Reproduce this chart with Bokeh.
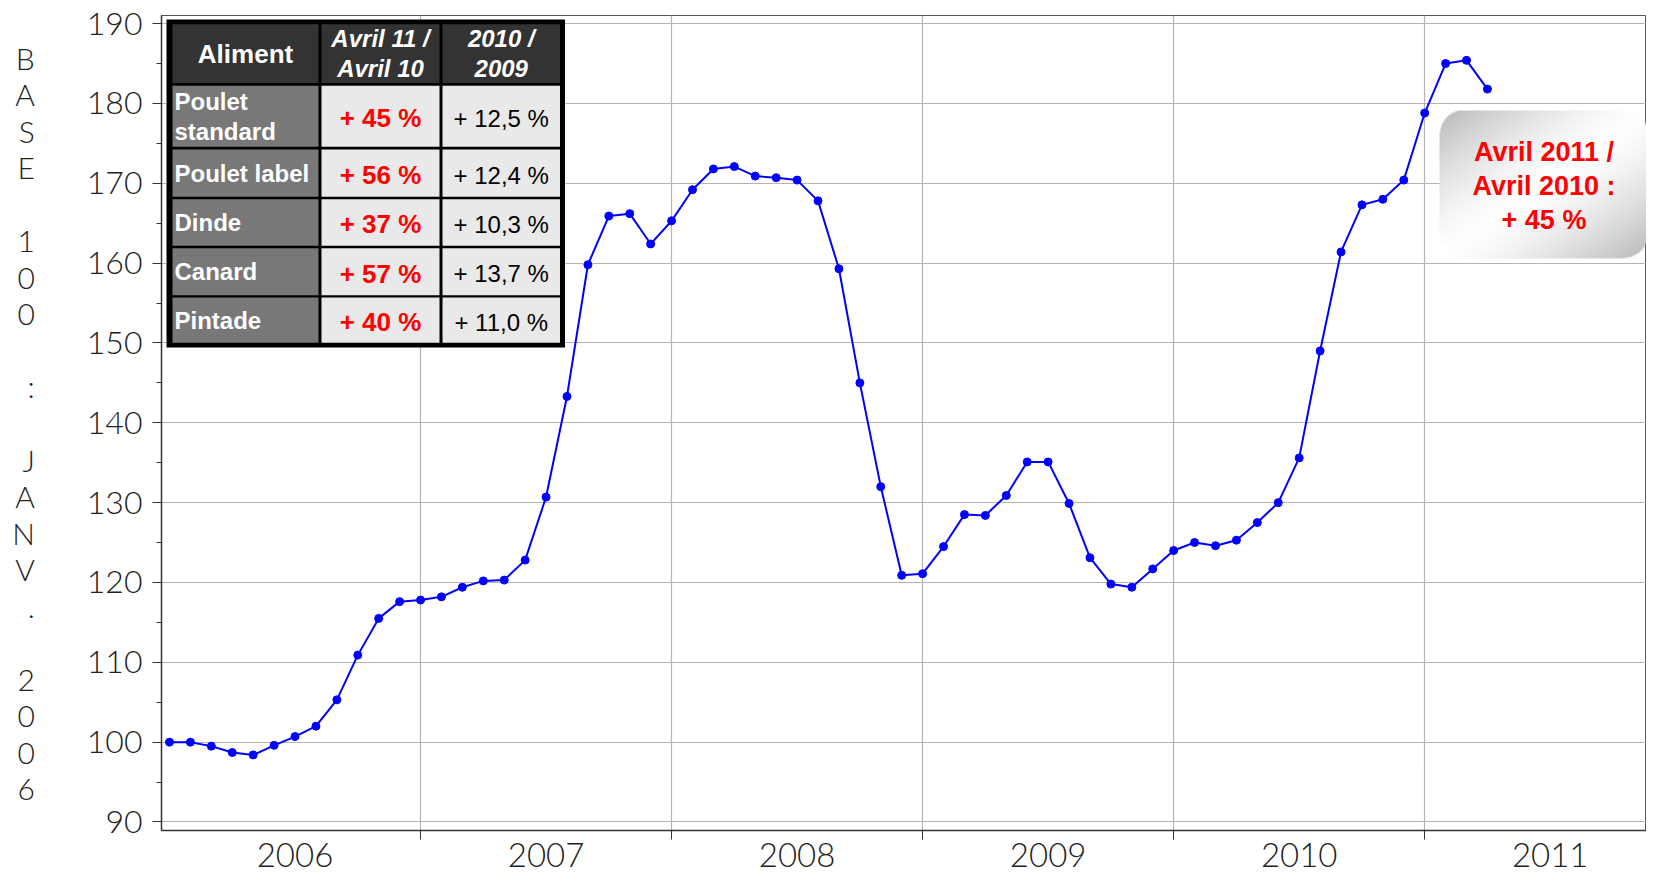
import numpy as np
from bokeh.plotting import figure
from bokeh.models import Range1d, FixedTicker
from bokeh.core.properties import value
from bokeh.embed import file_html
from bokeh.resources import INLINE

# ---------------- data ----------------
# month index: 0 = janvier 2006 ... 63 = avril 2011
months = list(range(64))
index_values = [
    100.0, 100.0, 99.5, 98.7, 98.4, 99.6, 100.7, 102.0, 105.3, 110.9, 115.5, 117.6,
    117.8, 118.2, 119.4, 120.2, 120.3, 122.8, 130.7, 143.3, 159.8, 165.9, 166.2, 162.4,
    165.3, 169.2, 171.8, 172.1, 170.9, 170.7, 170.4, 167.8, 159.3, 145.0, 132.0, 120.9,
    121.1, 124.5, 128.5, 128.4, 130.9, 135.1, 135.1, 129.9, 123.1, 119.8, 119.4, 121.7,
    124.0, 125.0, 124.6, 125.3, 127.5, 130.0, 135.6, 149.0, 161.4, 167.3, 168.0, 170.4,
    178.8, 185.0, 185.4, 181.8,
]
year_labels = ["2006", "2007", "2008", "2009", "2010", "2011"]
y_ticks = [90, 100, 110, 120, 130, 140, 150, 160, 170, 180, 190]
y_minor_ticks = [95, 105, 115, 125, 135, 145, 155, 165, 175, 185]
y_axis_title = "BASE 100 : JANV. 2006"

table_headers = ["Aliment", "Avril 11 /\nAvril 10", "2010 /\n2009"]
foods = ["Poulet\nstandard", "Poulet label", "Dinde", "Canard", "Pintade"]
change_april = ["+ 45 %", "+ 56 %", "+ 37 %", "+ 57 %", "+ 40 %"]
change_year = ["+ 12,5 %", "+ 12,4 %", "+ 10,3 %", "+ 13,7 %", "+ 11,0 %"]
callout_text = "Avril 2011 /\nAvril 2010 :\n+ 45 %"

# ---------------- geometry helpers (reference pixel -> data units) ----------------
PX_PER_MONTH = 20.92
X0_PX = 169.0          # x of month 0
Y190_PX = 23.3         # y of value 190
PX_PER_UNIT = 8.15


def px2x(px):
    return (px - X0_PX) / PX_PER_MONTH


def py2y(py):
    return 190 - (py - Y190_PX) / PX_PER_UNIT


FIG_W, FIG_H = 1646, 872
FRAME_LEFT, FRAME_TOP = 161, 15
x_start = px2x(FRAME_LEFT)
x_end = px2x(FIG_W)
y_start = py2y(847)
y_end = py2y(FRAME_TOP)

TICK_FONT = "Lato Light, Lato, sans-serif"
TABLE_FONT = value("Liberation Sans")

p = figure(
    width=FIG_W, height=FIG_H,
    x_range=Range1d(x_start, x_end), y_range=Range1d(y_start, y_end),
    output_backend="svg", toolbar_location=None, tools="",
    min_border_left=FRAME_LEFT, min_border_right=0, min_border_top=FRAME_TOP, min_border_bottom=42,
    background_fill_color="white", border_fill_color="white",
)
p.outline_line_color = "#555555"
p.outline_line_width = 1

# ----- x axis -----
year_mid = [6 + 12 * i for i in range(len(year_labels))]
year_bounds = [12 * i for i in range(1, len(year_labels))]
p.xaxis.ticker = FixedTicker(ticks=year_mid, minor_ticks=year_bounds)
p.xaxis.major_label_overrides = {m: lab for m, lab in zip(year_mid, year_labels)}
p.xaxis.major_tick_out = 0
p.xaxis.major_tick_in = 0
p.xaxis.minor_tick_out = 9
p.xaxis.minor_tick_in = 0
p.xaxis.minor_tick_line_color = "#333333"
p.xaxis.minor_tick_line_width = 1
p.xaxis.axis_line_color = "#333333"
p.xaxis.axis_line_width = 1.5
p.xaxis.major_label_text_font = TICK_FONT
p.xaxis.major_label_text_font_size = "33px"
p.xaxis.major_label_text_color = "#222222"
p.xaxis.major_label_standoff = 3

# ----- y axis -----
p.yaxis.ticker = FixedTicker(ticks=y_ticks, minor_ticks=y_minor_ticks)
p.yaxis.major_tick_out = 9
p.yaxis.major_tick_in = 0
p.yaxis.minor_tick_out = 5
p.yaxis.minor_tick_in = 0
p.yaxis.major_tick_line_color = "#333333"
p.yaxis.minor_tick_line_color = "#333333"
p.yaxis.axis_line_color = "#333333"
p.yaxis.axis_line_width = 1.5
p.yaxis.major_label_text_font = TICK_FONT
p.yaxis.major_label_text_font_size = "32px"
p.yaxis.major_label_text_color = "#222222"
p.yaxis.major_label_standoff = 10
p.yaxis.axis_label = "\n".join(ch if ch != " " else "" for ch in y_axis_title)
p.yaxis.axis_label_orientation = "horizontal"
p.yaxis.axis_label_text_font = TICK_FONT
p.yaxis.axis_label_text_font_size = "30px"
p.yaxis.axis_label_text_font_style = "normal"
p.yaxis.axis_label_text_color = "#222222"
p.yaxis.axis_label_text_line_height = 1.015
p.yaxis.axis_label_standoff = 49

# ----- grids -----
p.xgrid.ticker = FixedTicker(ticks=year_bounds)
p.xgrid.grid_line_color = "#b4b4b4"
p.xgrid.grid_line_width = 1.2
p.ygrid.grid_line_color = "#b4b4b4"
p.ygrid.grid_line_width = 1.2

# ----- series -----
p.line(months, index_values, line_color="#0000ff", line_width=2)
p.scatter(months, index_values, size=8, fill_color="#0000ff", line_color="#0000ff")

# ----- table overlay -----
outer = (166, 564.5, 19, 354)
p.quad(left=[px2x(outer[0])], right=[px2x(outer[1])], top=[py2y(outer[2])], bottom=[py2y(outer[3])],
       fill_color="#000000", line_color=None)
col_edges = [(172, 318), (321, 439), (442, 559.5)]
row_edges = [(24, 84), (86.7, 149), (151.7, 200), (202.7, 250), (252.7, 300.7), (303, 349)]
L, R, T, B, C = [], [], [], [], []
for ri, (rt, rb) in enumerate(row_edges):
    for ci, (cl, cr) in enumerate(col_edges):
        L.append(px2x(cl)); R.append(px2x(cr)); T.append(py2y(rt)); B.append(py2y(rb))
        if ri == 0:
            C.append("#333333")
        elif ci == 0:
            C.append("#787878")
        else:
            C.append("#e9e9e9")
p.quad(left=L, right=R, top=T, bottom=B, fill_color=C, line_color=None)

col_centers = [(a + b) / 2 for a, b in col_edges]
row_centers = [(a + b) / 2 for a, b in row_edges]

# header
p.text(x=[px2x(col_centers[0])], y=[py2y(row_centers[0])], text=[table_headers[0]],
       text_font=TABLE_FONT, text_font_size="26px", text_font_style="bold",
       text_color="white", text_align="center", text_baseline="middle")
p.text(x=[px2x(c) for c in col_centers[1:]], y=[py2y(row_centers[0])] * 2, text=table_headers[1:],
       text_font=TABLE_FONT, text_font_size="24px", text_font_style="bold italic",
       text_color="white", text_align="center", text_baseline="middle", text_line_height=1.1)
# first column
p.text(x=[px2x(174)] * len(foods), y=[py2y(rc) for rc in row_centers[1:]], text=foods,
       text_font=TABLE_FONT, text_font_size="24px", text_font_style="bold",
       text_color="white", text_align="left", text_baseline="middle", text_line_height=1.1)
p.text(x=[px2x(col_centers[1])] * len(change_april), y=[py2y(rc + 2) for rc in row_centers[1:]],
       text=change_april, text_font=TABLE_FONT, text_font_size="26px", text_font_style="bold",
       text_color="#ff0000", text_align="center", text_baseline="middle")
p.text(x=[px2x(col_centers[2])] * len(change_year), y=[py2y(rc + 2) for rc in row_centers[1:]],
       text=change_year, text_font=TABLE_FONT, text_font_size="24px", text_font_style="normal",
       text_color="#000000", text_align="center", text_baseline="middle")

# ----- callout box with diagonal gradient -----
bx0, bx1, by0, by1 = 1439, 1648, 112, 263
W, H, rad = int(bx1 - bx0), int(by1 - by0), 24
yy, xx = np.mgrid[0:H, 0:W]
t = (xx / (W - 1) + yy / (H - 1)) / 2.0
d = np.abs(2 * t - 1)
g = (255 - 70 * d ** 1.4).astype(np.uint8)
alpha = np.full((H, W), 255, dtype=np.uint8)
for cx, cy in [(rad, rad), (W - 1 - rad, rad), (rad, H - 1 - rad), (W - 1 - rad, H - 1 - rad)]:
    in_corner = ((xx < rad) if cx == rad else (xx > W - 1 - rad)) & ((yy < rad) if cy == rad else (yy > H - 1 - rad))
    dist = np.sqrt((xx - cx) ** 2 + (yy - cy) ** 2)
    a = np.clip(rad + 0.5 - dist, 0, 1) * 255
    alpha = np.where(in_corner, a.astype(np.uint8), alpha)
img = np.zeros((H, W), dtype=np.uint32)
view = img.view(dtype=np.uint8).reshape((H, W, 4))
view[:, :, 0] = g
view[:, :, 1] = g
view[:, :, 2] = g
view[:, :, 3] = alpha
img = np.flipud(img)
p.image_rgba(image=[img], x=px2x(bx0), y=py2y(by1), dw=px2x(bx1) - px2x(bx0), dh=py2y(by0) - py2y(by1))
p.text(x=[px2x((bx0 + bx1) / 2)], y=[py2y(189)], text=[callout_text], text_font=TABLE_FONT,
       text_font_size="27px", text_font_style="bold", text_color="#ff0000",
       text_align="center", text_baseline="middle", text_line_height=1.12)

open("out.html", "w").write(file_html(p, INLINE))
